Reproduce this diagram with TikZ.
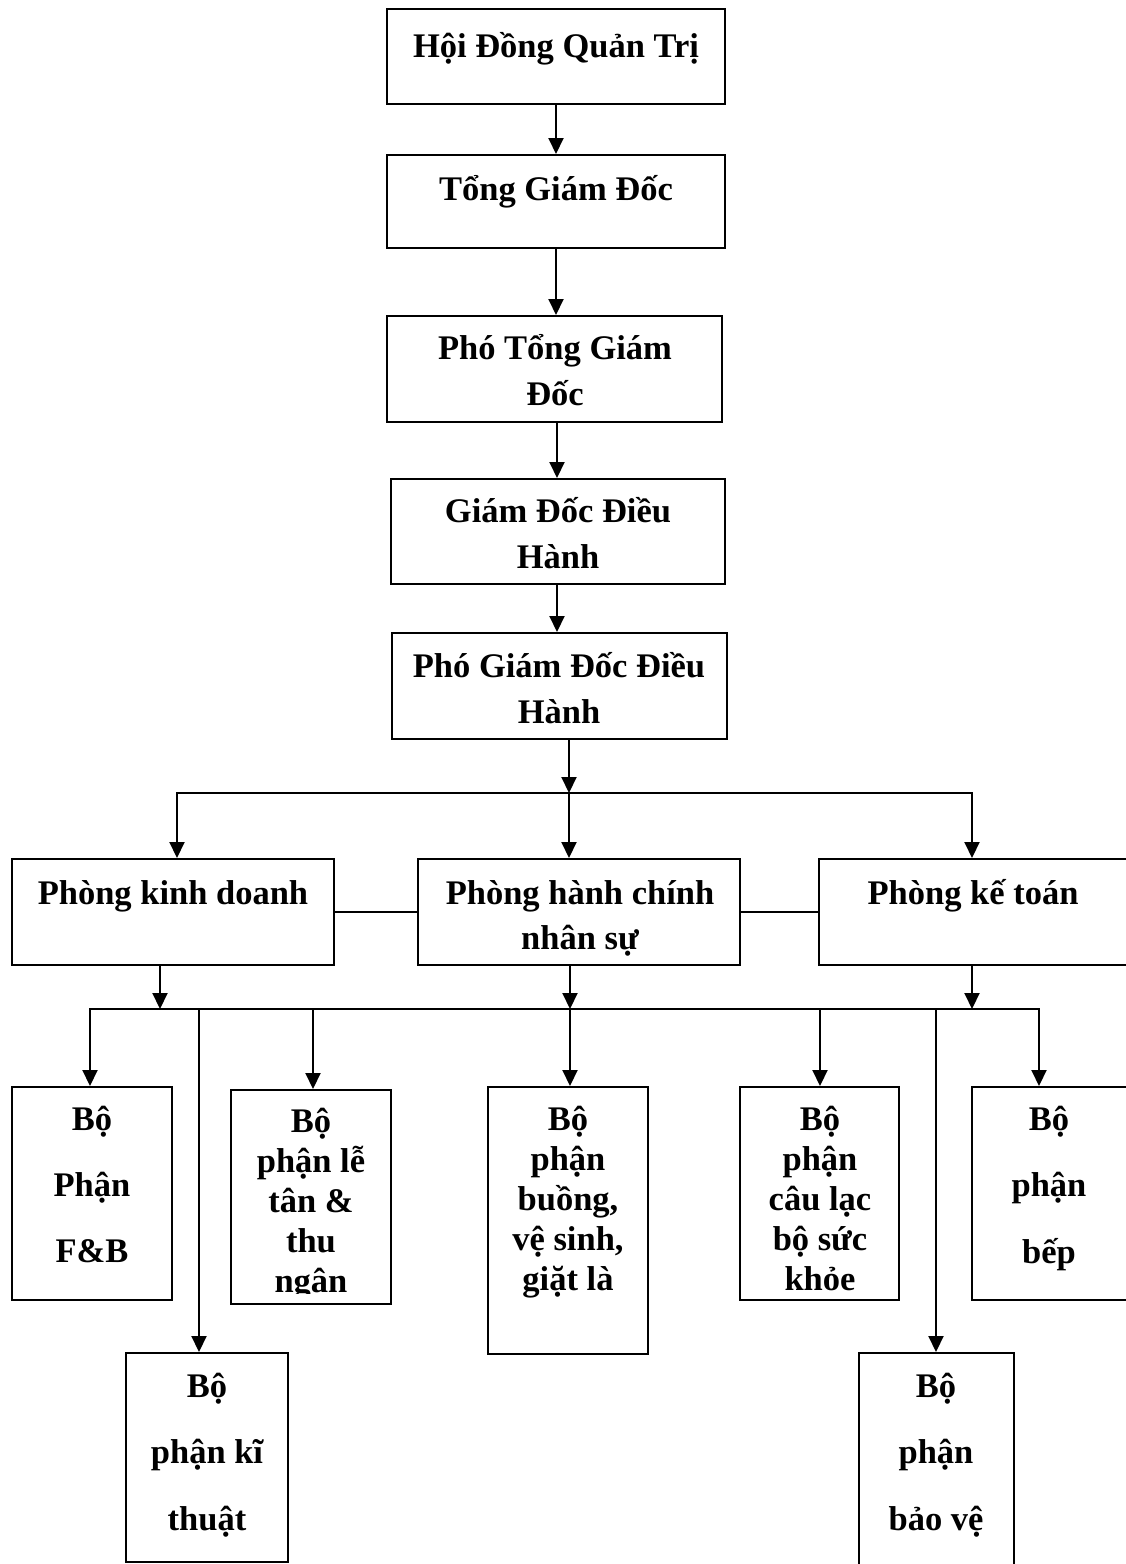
\documentclass[tikz,border=0pt]{standalone}
\usepackage{fontspec}
\setmainfont{Liberation Serif}
\usetikzlibrary{arrows.meta}
\newcommand{\hstrut}{\rule{0pt}{40pt}}
\begin{document}
\begin{tikzpicture}[x=1pt,y=-1pt,
  box/.style n args={2}{draw, line width=2pt, inner sep=0pt, minimum width=#1pt, minimum height=#2pt},
  txt/.style={inner sep=0pt, anchor=north, align=center, font={\fontsize{34.5}{#1}\selectfont\bfseries}},
  txt/.default=40,
  ln/.style={line width=2pt},
  arr/.style={line width=2pt, -{Triangle[length=16pt,width=15pt]}}]
\useasboundingbox[fill=white] (0,0) rectangle (1125,1564);

% boxes
\node[box={338}{95}]  (hdqt)  at (556,56.5) {};
\node[box={338}{93}]  (tgd)   at (556,201.5) {};
\node[box={335}{106}] (ptgd)  at (554.5,369) {};
\node[box={334}{105}] (gddh)  at (558,531.5) {};
\node[box={335}{106}] (pgddh) at (559.5,686) {};
\node[box={322}{106}] (kd)    at (173,912) {};
\node[box={322}{106}] (hc)    at (579,912) {};
\node[box={308}{106}] (kt)    at (973,912) {};
\node[box={160}{213}] (fb)    at (92,1193.5) {};
\node[box={160}{214}] (lt)    at (311,1197) {};
\node[box={160}{267}] (bu)    at (568,1220.5) {};
\node[box={159}{213}] (cl)    at (819.5,1193.5) {};
\node[box={155}{213}] (bep)   at (1049.5,1193.5) {};
\node[box={162}{209}] (kth)   at (207,1457.5) {};
\node[box={155}{227}] (bv)    at (936.5,1466.5) {};

% texts
\node[txt] (hdqt-t) at (556,17) {\hstrut Hội Đồng Quản Trị};
\node[txt] (tgd-t) at (556,160) {\hstrut Tổng Giám Đốc};
\node[txt=46] (ptgd-t) at (555,319) {\hstrut Phó Tổng Giám\\Đốc};
\node[txt=46] (gddh-t) at (558,482) {\hstrut Giám Đốc Điều\\Hành};
\node[txt=46] (pgddh-t) at (559,637) {\hstrut Phó Giám Đốc Điều\\Hành};
\node[txt] (kd-t) at (173,864) {\hstrut Phòng kinh doanh};
\node[txt=45] (hc-t) at (580,864) {\hstrut Phòng hành chính\\nhân sự};
\node[txt] (kt-t) at (973,864) {\hstrut Phòng kế toán};
\node[txt=66] (fb-t) at (92,1090) {\hstrut Bộ\\Phận\\F\&B};
\begin{scope}
\clip (231,1085) rectangle (391,1293);
\node[txt=40] (lt-t) at (311,1092) {\hstrut Bộ\\phận lễ\\tân \&\\thu\\ngân};
\end{scope}
\node[txt=40] (bu-t) at (568,1090) {\hstrut Bộ\\phận\\buồng,\\vệ sinh,\\giặt là};
\node[txt=40] (cl-t) at (820,1090) {\hstrut Bộ\\phận\\câu lạc\\bộ sức\\khỏe};
\node[txt=66.5] (bep-t) at (1049,1090) {\hstrut Bộ\\phận\\bếp};
\node[txt=66.5] (kth-t) at (207,1357) {\hstrut Bộ\\phận kĩ\\thuật};
\node[txt=66.5] (bv-t) at (936,1357) {\hstrut Bộ\\phận\\bảo vệ};

% vertical chain
\draw[arr] (hdqt.south) -- (hdqt.south |- tgd.north);
\draw[arr] (tgd.south) -- (tgd.south |- ptgd.north);
\draw[arr] (557,422) coordinate (c3) -- (c3 |- gddh.north);
\draw[arr] (557,584) coordinate (c4) -- (c4 |- pgddh.north);

% first bus
\coordinate (bus1c) at (569,793);
\coordinate (bus1l) at (177,793);
\coordinate (bus1r) at (972,793);
\draw[arr] (pgddh.south -| bus1c) -- (bus1c);
\draw[arr] (bus1c) -- (bus1l) -- (kd.north -| bus1l);
\draw[arr] (bus1c) -- (bus1r) -- (kt.north -| bus1r);
\draw[arr] (bus1c) -- (hc.north -| bus1c);

% side links
\draw[ln] (kd.east) -- (hc.west);
\draw[ln] (hc.east) -- (kt.west);

% second bus
\coordinate (b2a) at (160,1009);
\coordinate (b2b) at (570,1009);
\coordinate (b2c) at (972,1009);
\coordinate (d1) at (90,1009);
\coordinate (d2) at (313,1009);
\coordinate (d4) at (820,1009);
\coordinate (d5) at (1039,1009);
\coordinate (l1) at (199,1009);
\coordinate (l2) at (936,1009);
\draw[arr] (kd.south -| b2a) -- (b2a);
\draw[arr] (hc.south -| b2b) -- (b2b);
\draw[arr] (kt.south -| b2c) -- (b2c);
\draw[arr] (b2b) -- (d1) -- (fb.north -| d1);
\draw[arr] (b2b) -- (d5) -- (bep.north -| d5);
\draw[arr] (d2) -- (lt.north -| d2);
\draw[arr] (b2b) -- (bu.north -| b2b);
\draw[arr] (d4) -- (cl.north -| d4);
\draw[arr] (l1) -- (kth.north -| l1);
\draw[arr] (l2) -- (bv.north -| l2);
\end{tikzpicture}
\end{document}
